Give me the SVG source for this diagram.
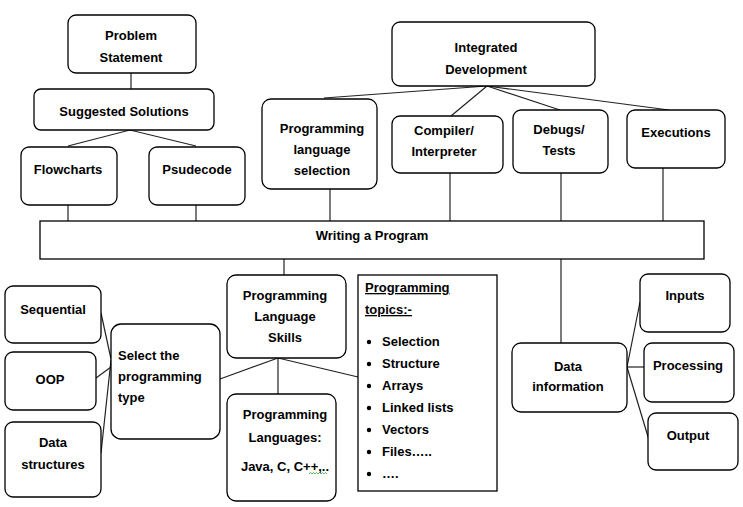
<svg xmlns="http://www.w3.org/2000/svg" width="743" height="507" viewBox="0 0 743 507">
<style>
.box{fill:#fff;stroke:#000;stroke-width:1.3}
.c{fill:none;stroke:#222;stroke-width:1.2}
text{font-family:"Liberation Sans",Arial,sans-serif;font-weight:bold;font-size:13px;fill:#000}
.m{text-anchor:middle}
</style>
<rect width="743" height="507" fill="#fff"/>
<g id="connectors">
<line class="c" x1="131" y1="73" x2="131" y2="89"/>
<polyline class="c" points="68,146 130,130 196,146"/>
<line class="c" x1="68" y1="205" x2="68" y2="221"/>
<line class="c" x1="196" y1="205" x2="196" y2="221"/>
<line class="c" x1="487" y1="86" x2="324" y2="98"/>
<line class="c" x1="487" y1="86" x2="451" y2="116"/>
<line class="c" x1="487" y1="86" x2="560" y2="110"/>
<line class="c" x1="487" y1="86" x2="669" y2="110"/>
<line class="c" x1="330" y1="189" x2="330" y2="221"/>
<line class="c" x1="450" y1="173" x2="450" y2="221"/>
<line class="c" x1="561" y1="173" x2="561" y2="221"/>
<line class="c" x1="663" y1="168" x2="663" y2="221"/>
<line class="c" x1="284" y1="259" x2="284" y2="275"/>
<line class="c" x1="278" y1="358" x2="278" y2="394"/>
<line class="c" x1="278" y1="358" x2="220" y2="379"/>
<line class="c" x1="278" y1="358" x2="358" y2="377"/>
<line class="c" x1="101" y1="313" x2="111" y2="359"/>
<line class="c" x1="96" y1="378" x2="111" y2="367"/>
<line class="c" x1="101" y1="453" x2="111" y2="360"/>
<line class="c" x1="561" y1="259" x2="561" y2="343"/>
<line class="c" x1="627" y1="367" x2="640" y2="302"/>
<line class="c" x1="627" y1="367" x2="644" y2="367"/>
<line class="c" x1="627" y1="367" x2="649" y2="440"/>
</g>
<g id="problem-statement">
<rect class="box" x="68" y="15" width="128" height="58" rx="8"/>
<text class="m" x="131" y="39.5">Problem</text>
<text class="m" x="131" y="61.5">Statement</text>
</g>
<g id="suggested-solutions">
<rect class="box" x="34" y="89" width="180" height="41" rx="7"/>
<text class="m" x="124" y="115.5">Suggested Solutions</text>
</g>
<g id="flowcharts">
<rect class="box" x="21" y="147" width="96" height="58" rx="8"/>
<text class="m" x="68" y="173.5">Flowcharts</text>
</g>
<g id="psudecode">
<rect class="box" x="149" y="147" width="96" height="58" rx="8"/>
<text class="m" x="197" y="173.5">Psudecode</text>
</g>
<g id="integrated-development">
<rect class="box" x="392" y="22" width="203" height="64" rx="8"/>
<text class="m" x="486" y="51.5">Integrated</text>
<text class="m" x="486" y="73.5">Development</text>
</g>
<g id="programming-language-selection">
<rect class="box" x="262" y="99" width="115" height="90" rx="9"/>
<text class="m" x="322" y="132.5">Programming</text>
<text class="m" x="322" y="154">language</text>
<text class="m" x="322" y="174.5">selection</text>
</g>
<g id="compiler-interpreter">
<rect class="box" x="392" y="116" width="111" height="57" rx="8"/>
<text class="m" x="444" y="134.5">Compiler/</text>
<text class="m" x="444" y="155.5">Interpreter</text>
</g>
<g id="debugs-tests">
<rect class="box" x="513" y="110" width="95" height="63" rx="8"/>
<text class="m" x="559" y="133.5">Debugs/</text>
<text class="m" x="559" y="154.5">Tests</text>
</g>
<g id="executions">
<rect class="box" x="627" y="110" width="98" height="58" rx="8"/>
<text class="m" x="676" y="136.5">Executions</text>
</g>
<g id="writing-a-program">
<rect class="box" x="40" y="221" width="664" height="38"/>
<text class="m" x="372" y="240">Writing a Program</text>
</g>
<g id="programming-language-skills">
<rect class="box" x="227" y="275" width="119" height="83" rx="9"/>
<text class="m" x="285" y="299.5">Programming</text>
<text class="m" x="285" y="320.5">Language</text>
<text class="m" x="285" y="341.5">Skills</text>
</g>
<g id="programming-languages">
<rect class="box" x="227" y="394" width="109" height="107" rx="9"/>
<text class="m" x="285" y="418.5">Programming</text>
<text class="m" x="285" y="441.5">Languages:</text>
<text class="m" x="285" y="470.5">Java, C, C++,..</text>
<path d="M309,474 l1.5,-1.5 l1.5,1.5 l1.5,-1.5 l1.5,1.5 l1.5,-1.5 l1.5,1.5 l1.5,-1.5 l1.5,1.5 l1.5,-1.5 l1.5,1.5 l1.5,-1.5 l1.5,1.5" fill="none" stroke="#3a3" stroke-width="0.8"/>
</g>
<g id="select-programming-type">
<rect class="box" x="111" y="324" width="109" height="115" rx="10"/>
<text x="118" y="359.5">Select the</text>
<text x="118" y="381">programming</text>
<text x="118" y="401.5">type</text>
</g>
<g id="sequential">
<rect class="box" x="5" y="286" width="96" height="57" rx="8"/>
<text class="m" x="53" y="313.5">Sequential</text>
</g>
<g id="oop">
<rect class="box" x="5" y="352" width="91" height="58" rx="8"/>
<text class="m" x="50" y="383.5">OOP</text>
</g>
<g id="data-structures">
<rect class="box" x="5" y="422" width="96" height="75" rx="8"/>
<text class="m" x="53" y="446.5">Data</text>
<text class="m" x="53" y="468.5">structures</text>
</g>
<g id="programming-topics">
<rect class="box" x="358" y="275" width="139" height="216"/>
<text x="365" y="292" text-decoration="underline">Programming</text>
<text x="365" y="314" text-decoration="underline">topics:-</text>
<g fill="#000">
<circle cx="369" cy="342" r="2.2"/>
<circle cx="369" cy="364" r="2.2"/>
<circle cx="369" cy="386" r="2.2"/>
<circle cx="369" cy="408" r="2.2"/>
<circle cx="369" cy="430" r="2.2"/>
<circle cx="369" cy="452" r="2.2"/>
<circle cx="369" cy="474" r="2.2"/>
</g>
<text x="382" y="346">Selection</text>
<text x="382" y="368">Structure</text>
<text x="382" y="390">Arrays</text>
<text x="382" y="412">Linked lists</text>
<text x="382" y="434">Vectors</text>
<text x="382" y="456">Files…..</text>
<text x="382" y="478">….</text>
</g>
<g id="data-information">
<rect class="box" x="512" y="343" width="115" height="69" rx="9"/>
<text class="m" x="568" y="370.5">Data</text>
<text class="m" x="568" y="390.5">information</text>
</g>
<g id="inputs">
<rect class="box" x="640" y="274" width="90" height="58" rx="8"/>
<text class="m" x="685" y="299.5">Inputs</text>
</g>
<g id="processing">
<rect class="box" x="644" y="343" width="90" height="59" rx="8"/>
<text class="m" x="688" y="369.5">Processing</text>
</g>
<g id="output">
<rect class="box" x="648" y="413" width="90" height="57" rx="8"/>
<text class="m" x="688" y="439.5">Output</text>
</g>
</svg>
